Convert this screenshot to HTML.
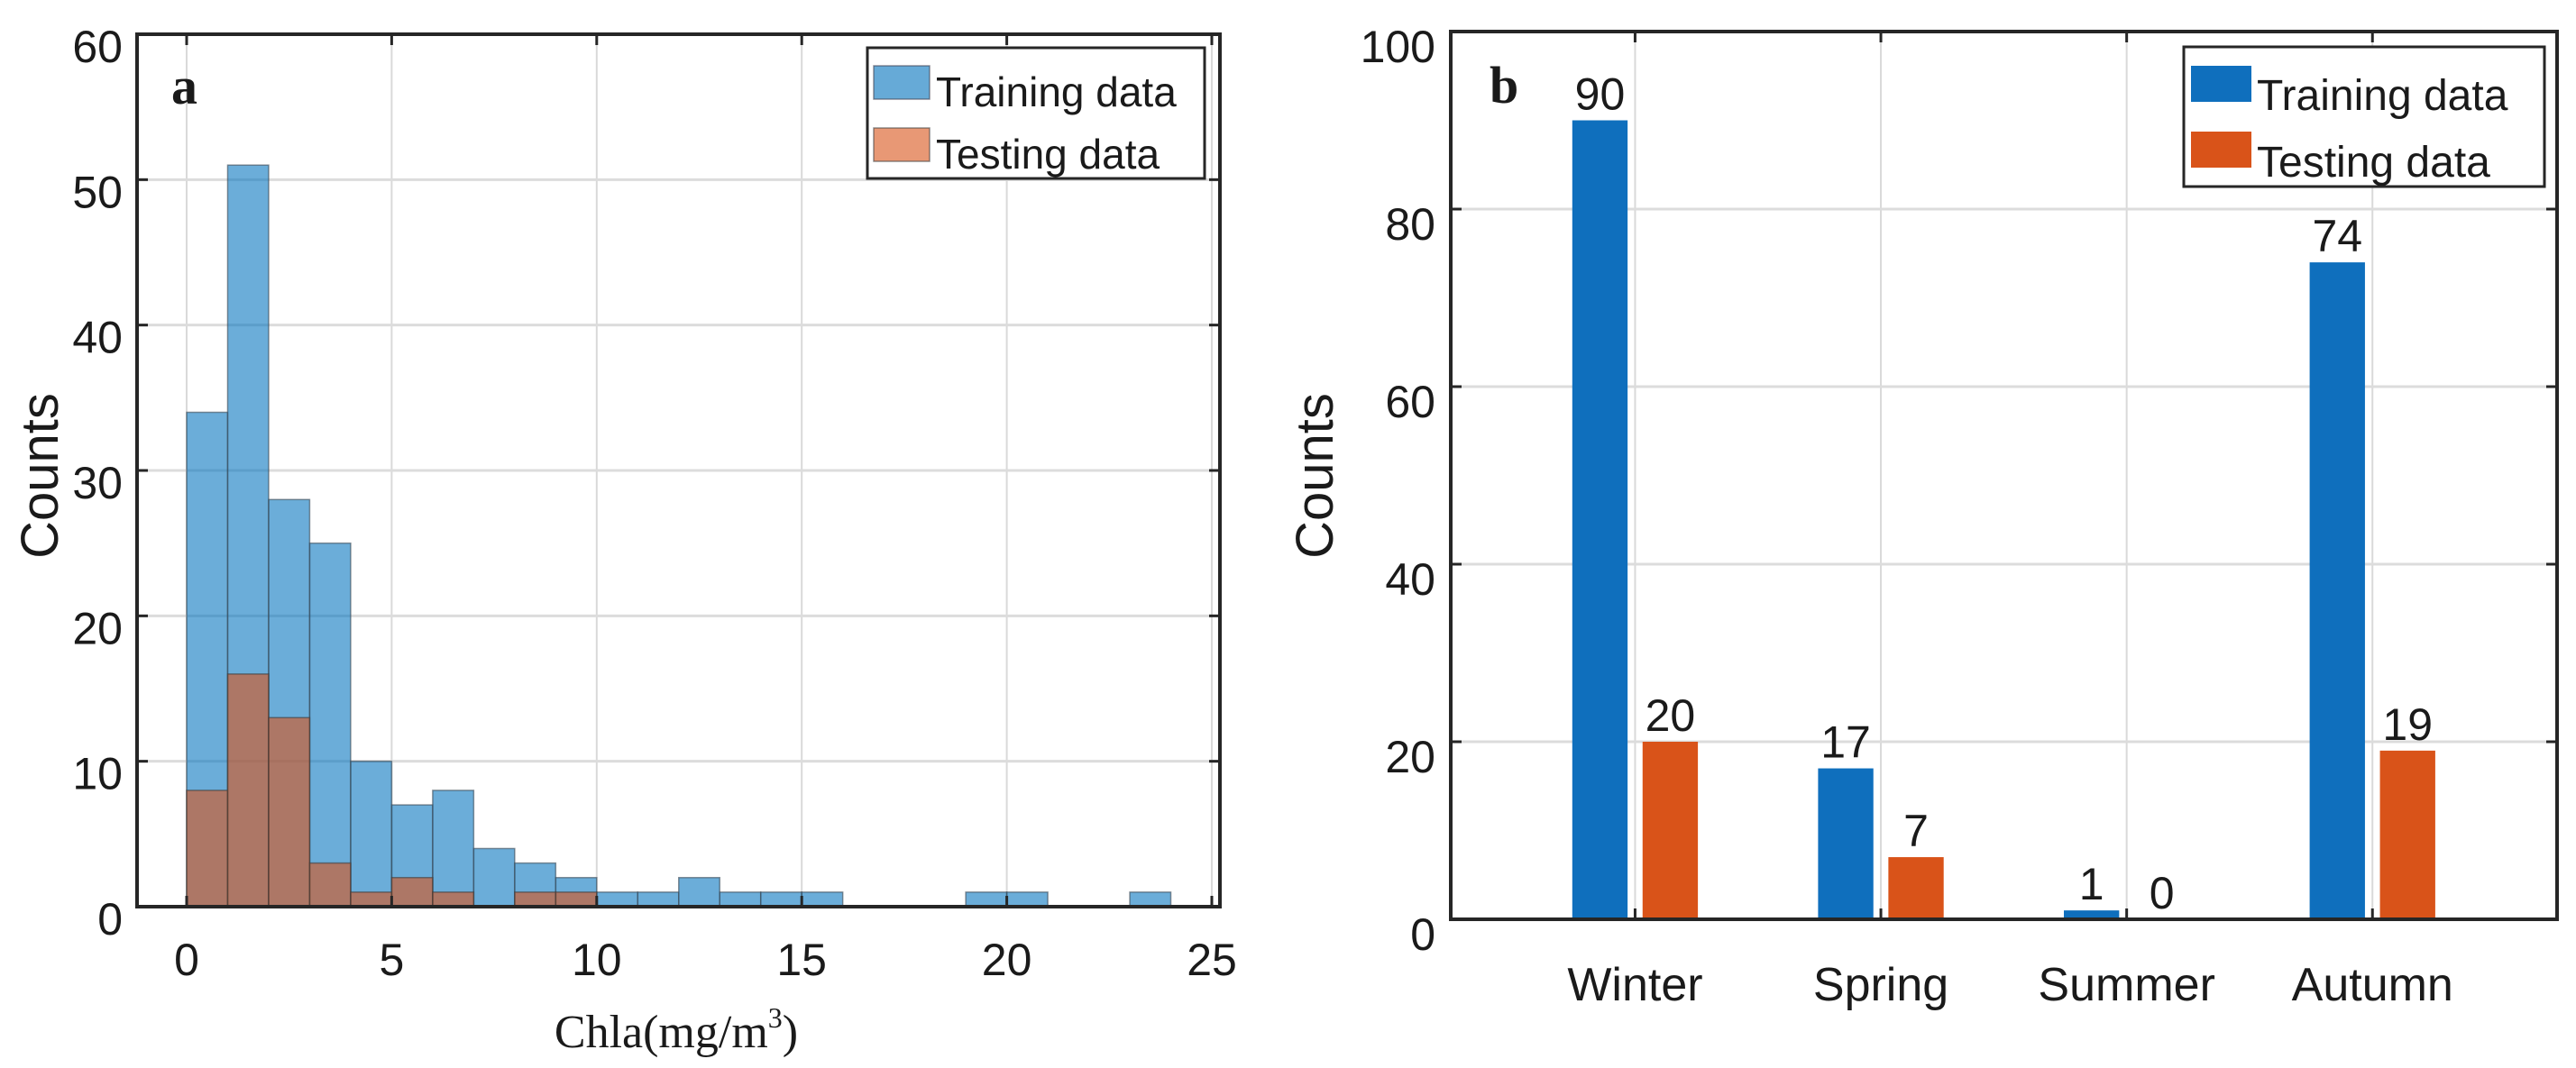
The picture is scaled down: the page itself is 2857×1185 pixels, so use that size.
<!DOCTYPE html>
<html><head><meta charset="utf-8"><style>
html,body{margin:0;padding:0;background:#fff;}
svg{display:block;}
text{font-family:"Liberation Sans",sans-serif;fill:#1a1a1a;}
</style></head><body>
<svg id="fig" width="2857" height="1185" viewBox="0 0 2857 1185" xmlns="http://www.w3.org/2000/svg"></svg>
<script>
// ---- Panel a data (histogram, bin width 1) ----
const binStartsA = [0,1,2,3,4,5,6,7,8,9,10,11,12,13,14,15,16,17,18,19,20,21,22,23];
const trainCountsA = [34,51,28,25,10,7,8,4,3,2,1,1,2,1,1,1,0,0,0,1,1,0,0,1];
const testCountsA = [8,16,13,3,1,2,1,0,1,1,0,0,0,0,0,0,0,0,0,0,0,0,0,0];
const xTicksA = [0,5,10,15,20,25];
const yTicksA = [0,10,20,30,40,50,60];
// ---- Panel b data (grouped bars) ----
const seasons = ["Winter","Spring","Summer","Autumn"];
const trainB = [90,17,1,74];
const testB = [20,7,0,19];
const yTicksB = [0,20,40,60,80,100];

const NS = "http://www.w3.org/2000/svg";
const svg = document.getElementById("fig");
function mk(tag, attrs, parent, txt){
  const e = document.createElementNS(NS, tag);
  for (const k in attrs) e.setAttribute(k, attrs[k]);
  if (txt !== undefined) e.textContent = txt;
  (parent||svg).appendChild(e);
  return e;
}

// ===== Panel a =====
const A = {x0:152, x1:1353, y0:1006, y1:38};
const ax = v => 207 + v*45.48;
const ay = v => A.y0 - v*(A.y0-A.y1)/60;
const gA = mk("g",{});


xTicksA.forEach(t=>{
  const l = mk("line",{x1:ax(t),x2:ax(t),y1:A.y1,y2:A.y0,stroke:"#d9d9d9","stroke-width":2},gA);
  
  
});
yTicksA.forEach(t=>{
  if(t===0||t===60) return;
  const l = mk("line",{x1:A.x0,x2:A.x1,y1:ay(t),y2:ay(t),stroke:"#dcdcdc","stroke-width":3},gA);
  
  
});
binStartsA.forEach((b,i)=>{
  if(trainCountsA[i]>0){
    const r = mk("rect",{x:ax(b),y:ay(trainCountsA[i]),width:ax(b+1)-ax(b),height:ay(0)-ay(trainCountsA[i]),fill:"rgb(0,114,189)","fill-opacity":0.58,stroke:"#3c4a55","stroke-opacity":0.6,"stroke-width":1.5},gA);
    
    
  }
});
binStartsA.forEach((b,i)=>{
  if(testCountsA[i]>0){
    const r = mk("rect",{x:ax(b),y:ay(testCountsA[i]),width:ax(b+1)-ax(b),height:ay(0)-ay(testCountsA[i]),fill:"rgb(217,83,25)","fill-opacity":0.6,stroke:"#3c3c3c","stroke-opacity":0.6,"stroke-width":1.5},gA);
    
    
  }
});
// axes box
const boxA = mk("rect",{x:A.x0,y:A.y1,width:A.x1-A.x0,height:A.y0-A.y1,fill:"none",stroke:"#262626","stroke-width":4},gA);


xTicksA.forEach(t=>{
  mk("line",{x1:ax(t),x2:ax(t),y1:A.y0,y2:A.y0-12,stroke:"#262626","stroke-width":3},gA);
  mk("line",{x1:ax(t),x2:ax(t),y1:A.y1,y2:A.y1+12,stroke:"#262626","stroke-width":3},gA);
  const tx = mk("text",{x:ax(t),y:1082,"text-anchor":"middle","font-size":50},gA,String(t));
  
  
});
yTicksA.forEach(t=>{
  mk("line",{x1:A.x0,x2:A.x0+12,y1:ay(t),y2:ay(t),stroke:"#262626","stroke-width":3},gA);
  mk("line",{x1:A.x1,x2:A.x1-12,y1:ay(t),y2:ay(t),stroke:"#262626","stroke-width":3},gA);
  const tx = mk("text",{x:136,y:ay(t)+31,"text-anchor":"end","font-size":50},gA,String(t));
  
  
});
let t1 = mk("text",{x:0,y:0,"text-anchor":"middle","font-size":58,transform:"translate(64,528) rotate(-90)"},gA,"Counts");


let t2 = mk("text",{x:750,y:1162,"text-anchor":"middle","font-size":52,"font-family":"Liberation Serif, serif"},gA);


t2.style.fontFamily='"Liberation Serif",serif';
t2.appendChild(document.createTextNode("Chla(mg/m"));
const sup = mk("tspan",{"font-size":32,dy:-22},t2,"3");
const cl = mk("tspan",{dy:22},t2,")");
let t3 = mk("text",{x:190,y:115,"font-size":58,"font-weight":"bold"},gA,"a");
t3.style.fontFamily='"Liberation Serif",serif';


// legend a
const legA = mk("g",{},gA);


mk("rect",{x:962,y:53,width:374,height:145,fill:"#fff",stroke:"#262626","stroke-width":3},legA);
let s1 = mk("rect",{x:969,y:73,width:62,height:37,fill:"rgb(0,114,189)","fill-opacity":0.6,stroke:"#445","stroke-opacity":0.6,"stroke-width":1.5},legA);


let s2 = mk("rect",{x:969,y:142,width:62,height:37,fill:"rgb(217,83,25)","fill-opacity":0.6,stroke:"#444","stroke-opacity":0.6,"stroke-width":1.5},legA);


let l1 = mk("text",{x:1038,y:118,"font-size":46},legA,"Training data");


let l2 = mk("text",{x:1038,y:187,"font-size":46},legA,"Testing data");



// ===== Panel b =====
const B = {x0:1609, x1:2836, y0:1020, y1:35};
const bx = v => B.x0 + (v-0.25)*272.6;
const by = v => B.y0 - v*(B.y0-B.y1)/100;
const gB = mk("g",{});


seasons.forEach((s,i)=>{
  const l = mk("line",{x1:bx(i+1),x2:bx(i+1),y1:B.y1,y2:B.y0,stroke:"#d9d9d9","stroke-width":2},gB);
  
  
});
yTicksB.forEach(t=>{
  if(t===0||t===100) return;
  const l = mk("line",{x1:B.x0,x2:B.x1,y1:by(t),y2:by(t),stroke:"#dcdcdc","stroke-width":3},gB);
  
  
});
const bw = 0.225, off = 0.143;
seasons.forEach((s,i)=>{
  const c = i+1;
  const xl = bx(c-off-bw/2), w = bx(c+bw/2)-bx(c-bw/2);
  const r1 = mk("rect",{x:xl,y:by(trainB[i]),width:w,height:by(0)-by(trainB[i]),fill:"#0f6fbd"},gB);
  
  
  const v1 = mk("text",{x:bx(c-off),y:by(trainB[i])-12,"text-anchor":"middle","font-size":50},gB,String(trainB[i]));
  
  
  const xr = bx(c+off-bw/2);
  if(testB[i]>0){
    const r2 = mk("rect",{x:xr,y:by(testB[i]),width:w,height:by(0)-by(testB[i]),fill:"#d95319"},gB);
    
    
  }
  const v2 = mk("text",{x:bx(c+off),y:by(testB[i])-12,"text-anchor":"middle","font-size":50},gB,String(testB[i]));
  
  
  const cat = mk("text",{x:bx(c),y:1110,"text-anchor":"middle","font-size":52},gB,s);
  
  
  mk("line",{x1:bx(c),x2:bx(c),y1:B.y0,y2:B.y0-12,stroke:"#262626","stroke-width":3},gB);
  mk("line",{x1:bx(c),x2:bx(c),y1:B.y1,y2:B.y1+12,stroke:"#262626","stroke-width":3},gB);
});
const boxB = mk("rect",{x:B.x0,y:B.y1,width:B.x1-B.x0,height:B.y0-B.y1,fill:"none",stroke:"#262626","stroke-width":4},gB);


yTicksB.forEach(t=>{
  mk("line",{x1:B.x0,x2:B.x0+12,y1:by(t),y2:by(t),stroke:"#262626","stroke-width":3},gB);
  mk("line",{x1:B.x1,x2:B.x1-12,y1:by(t),y2:by(t),stroke:"#262626","stroke-width":3},gB);
  const tx = mk("text",{x:1592,y:by(t)+34,"text-anchor":"end","font-size":50},gB,String(t));
  
  
});
let t4 = mk("text",{x:0,y:0,"text-anchor":"middle","font-size":58,transform:"translate(1478,528) rotate(-90)"},gB,"Counts");


let t5 = mk("text",{x:1652,y:114,"font-size":58,"font-weight":"bold"},gB,"b");
t5.style.fontFamily='"Liberation Serif",serif';


const legB = mk("g",{},gB);


mk("rect",{x:2422,y:52,width:400,height:155,fill:"#fff",stroke:"#262626","stroke-width":3},legB);
let s3 = mk("rect",{x:2430,y:73,width:67,height:40,fill:"#0f6fbd"},legB);


let s4 = mk("rect",{x:2430,y:146,width:67,height:40,fill:"#d95319"},legB);


let l3 = mk("text",{x:2503,y:122,"font-size":48},legB,"Training data");


let l4 = mk("text",{x:2503,y:196,"font-size":48},legB,"Testing data");


</script>
</body></html>
